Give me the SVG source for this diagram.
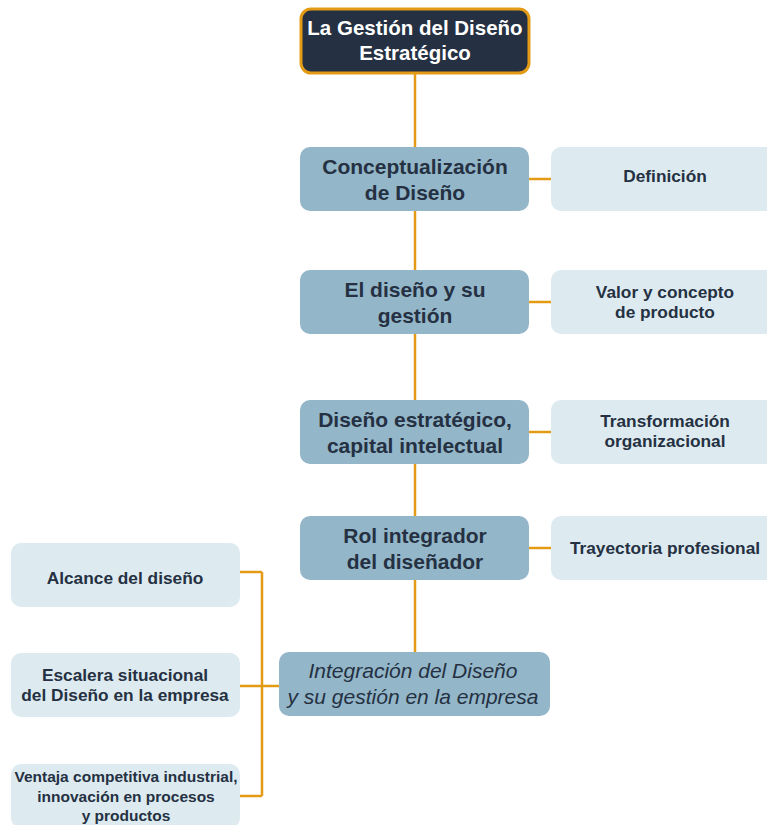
<svg xmlns="http://www.w3.org/2000/svg" width="767" height="825" viewBox="0 0 767 825">
<style>
.c{stroke:#e39b16;stroke-width:2.5;fill:none}
.m{fill:#93b6c9}
.l{fill:#ddebf1}
.t{font-family:"Liberation Sans",Arial,sans-serif;fill:#253142;text-anchor:middle}
.mt{font-size:21px;font-weight:bold}
.lt{font-size:17.3px;font-weight:bold}
.st{font-size:15.5px;font-weight:bold}
</style>
<rect width="767" height="825" fill="#fff"/>
<g id="connectors">
<path class="c" d="M415 74V652"/>
<path class="c" d="M529 179H551M529 302H551M529 432H551M529 548H551"/>
<path class="c" d="M279 686H262M262 572V796M240 572H262M240 686H262M240 796H262"/>
</g>
<g id="root">
<rect x="301" y="9" width="228" height="64" rx="10" fill="#253142" stroke="#e39b16" stroke-width="3"/>
<text class="t" x="415" y="35" font-size="20.5" font-weight="bold" style="fill:#fff">La Gestión del Diseño</text>
<text class="t" x="415" y="60" font-size="20.5" font-weight="bold" style="fill:#fff">Estratégico</text>
</g>
<g id="n1"><rect class="m" x="300" y="147" width="229" height="64" rx="10"/>
<text class="t mt" x="415" y="174">Conceptualización</text><text class="t mt" x="415" y="200">de Diseño</text></g>
<g id="n2"><rect class="m" x="300" y="270" width="229" height="64" rx="10"/>
<text class="t mt" x="415" y="297">El diseño y su</text><text class="t mt" x="415" y="323">gestión</text></g>
<g id="n3"><rect class="m" x="300" y="400" width="229" height="64" rx="10"/>
<text class="t mt" x="415" y="427">Diseño estratégico,</text><text class="t mt" x="415" y="453">capital intelectual</text></g>
<g id="n4"><rect class="m" x="300" y="516" width="229" height="64" rx="10"/>
<text class="t mt" x="415" y="543">Rol integrador</text><text class="t mt" x="415" y="569">del diseñador</text></g>
<g id="n5"><rect class="m" x="279" y="652" width="271" height="64" rx="10"/>
<text class="t" x="413" y="678" font-size="21" font-style="italic">Integración del Diseño</text><text class="t" x="413" y="704" font-size="21" font-style="italic">y su gestión en la empresa</text></g>
<g id="r1"><rect class="l" x="551" y="147" width="229" height="64" rx="10"/>
<text class="t lt" x="665" y="182">Definición</text></g>
<g id="r2"><rect class="l" x="551" y="270" width="229" height="64" rx="10"/>
<text class="t lt" x="665" y="298">Valor y concepto</text><text class="t lt" x="665" y="318">de producto</text></g>
<g id="r3"><rect class="l" x="551" y="400" width="229" height="64" rx="10"/>
<text class="t lt" x="665" y="427">Transformación</text><text class="t lt" x="665" y="447">organizacional</text></g>
<g id="r4"><rect class="l" x="551" y="516" width="229" height="64" rx="10"/>
<text class="t lt" x="665" y="554">Trayectoria profesional</text></g>
<g id="l1"><rect class="l" x="11" y="543" width="229" height="64" rx="10"/>
<text class="t lt" x="125" y="584">Alcance del diseño</text></g>
<g id="l2"><rect class="l" x="11" y="653" width="229" height="64" rx="10"/>
<text class="t lt" x="125" y="681">Escalera situacional</text><text class="t lt" x="125" y="701">del Diseño en la empresa</text></g>
<g id="l3"><rect class="l" x="11" y="764" width="229" height="64" rx="10"/>
<text class="t st" x="126" y="782">Ventaja competitiva industrial,</text><text class="t st" x="126" y="802">innovación en procesos</text><text class="t st" x="126" y="821">y productos</text></g>
</svg>
